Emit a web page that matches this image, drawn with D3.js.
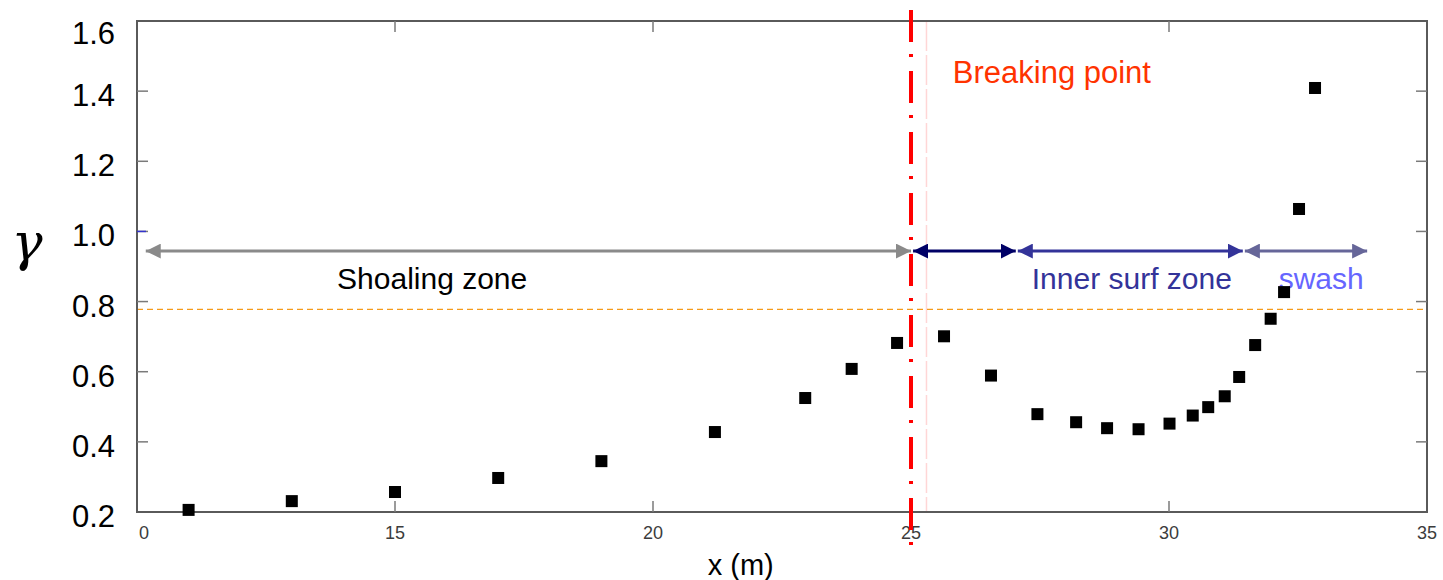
<!DOCTYPE html>
<html>
<head>
<meta charset="utf-8">
<script src="https://cdn.jsdelivr.net/npm/d3@7"></script>
<style>
  body { margin: 0; background: #fff; }
  svg { display: block; }
</style>
</head>
<body>
<script>
// wave breaking index gamma along the flume, x in metres
var xPos = [11.0, 13.0, 15.0, 17.0, 19.0, 21.2, 22.95, 23.85, 24.73, 25.64, 26.55, 27.45, 28.20,
            28.80, 29.41, 30.01, 30.46, 30.76, 31.08, 31.36, 31.67, 31.97, 32.23, 32.52, 32.83];
var gamma = [0.206, 0.231, 0.257, 0.297, 0.345, 0.428, 0.525, 0.608, 0.682, 0.701, 0.589, 0.479, 0.456,
             0.439, 0.436, 0.452, 0.475, 0.499, 0.530, 0.585, 0.676, 0.751, 0.827, 1.064, 1.409];

var xTicks = [10, 15, 20, 25, 30, 35];
var xTickLabels = ["0", "15", "20", "25", "30", "35"];
var yTicks = [0.2, 0.4, 0.6, 0.8, 1.0, 1.2, 1.4, 1.6];
var yTickLabels = ["0.2", "0.4", "0.6", "0.8", "1.0", "1.2", "1.4", "1.6"];

var breakX = 25.0;     // breaking point
var faintX = 25.3;
var refGamma = 0.778;  // dashed reference level

var zoneNames = ["Shoaling zone", "", "Inner surf zone", "swash"];
var zoneStart = [10.17, 25.04, 27.07, 31.47];
var zoneEnd   = [25.0, 27.03, 31.43, 33.84];
var zoneColors = ["#8a8a8a", "#000066", "#333399", "#666699"];
var arrowLevel = 0.944;

var W = 1443, H = 580;
var plot = {left: 137, right: 1427, top: 21, bottom: 512};
var font = "'Liberation Sans', Arial, sans-serif";

var svg = d3.select("body")
    .append("svg")
    .attr("width", W)
    .attr("height", H);

var x = d3.scaleLinear().domain([10, 35]).range([plot.left, plot.right]);
var y = d3.scaleLinear().domain([0.2, 1.6]).range([plot.bottom, plot.top]);

// faint pink line just after the break
svg.append("line")
    .attr("x1", x(faintX)).attr("x2", x(faintX))
    .attr("y1", plot.top).attr("y2", plot.bottom)
    .attr("stroke", "#ffd6d6")
    .attr("stroke-width", 1.5)
    .attr("stroke-dasharray", "30,4");

// orange dashed reference
svg.append("line")
    .attr("x1", plot.left).attr("x2", plot.right)
    .attr("y1", y(refGamma)).attr("y2", y(refGamma))
    .attr("stroke", "#f59a1a")
    .attr("stroke-width", 1.3)
    .attr("stroke-dasharray", "6,4");

// box
svg.append("rect")
    .attr("x", plot.left).attr("y", plot.top)
    .attr("width", plot.right - plot.left)
    .attr("height", plot.bottom - plot.top)
    .attr("fill", "none")
    .attr("stroke", "#5a5a5a")
    .attr("stroke-width", 2);

// inward ticks, matlab style
var tk = svg.append("g").attr("stroke", "#7a7a7a").attr("stroke-width", 1.5);
xTicks.slice(1, -1).forEach(function(v) {
    tk.append("line").attr("x1", x(v)).attr("x2", x(v)).attr("y1", plot.bottom).attr("y2", plot.bottom - 11);
    tk.append("line").attr("x1", x(v)).attr("x2", x(v)).attr("y1", plot.top).attr("y2", plot.top + 11);
});
yTicks.slice(1, -1).forEach(function(v) {
    tk.append("line").attr("x1", plot.left).attr("x2", plot.left + 11).attr("y1", y(v)).attr("y2", y(v));
    tk.append("line").attr("x1", plot.right).attr("x2", plot.right - 11).attr("y1", y(v)).attr("y2", y(v));
});
svg.append("line")
    .attr("x1", plot.left).attr("x2", plot.left + 9)
    .attr("y1", y(1.0)).attr("y2", y(1.0))
    .attr("stroke", "#3333cc").attr("stroke-width", 1.5);

// x tick labels
svg.append("g").selectAll("text")
    .data(xTicks)
    .enter().append("text")
        .attr("x", function(d, i) { return i === 0 ? x(d) + 2 : x(d); })
        .attr("y", plot.bottom + 27)
        .attr("text-anchor", function(d, i) { return i === 0 ? "start" : "middle"; })
        .attr("font-family", "'Liberation Sans Narrow', 'Liberation Sans', Arial, sans-serif")
        .attr("font-size", 18)
        .attr("fill", "#3c3c3c")
        .text(function(d, i) { return xTickLabels[i]; });

// y tick labels
svg.append("g").selectAll("text")
    .data(yTicks)
    .enter().append("text")
        .attr("x", 115)
        .attr("y", function(d) { return y(d) + (d === 1.6 ? 23 : 15); })
        .attr("text-anchor", "end")
        .attr("font-family", font)
        .attr("font-size", 31)
        .attr("fill", "#000")
        .text(function(d, i) { return yTickLabels[i]; });

svg.append("text")
    .attr("x", x(21.7))
    .attr("y", 575)
    .attr("text-anchor", "middle")
    .attr("font-family", font)
    .attr("font-size", 29)
    .text("x (m)");

svg.append("text")
    .attr("x", 27)
    .attr("y", 260)
    .attr("text-anchor", "middle")
    .attr("font-family", "'DejaVu Serif', 'Liberation Serif', serif")
    .attr("font-style", "italic")
    .attr("font-size", 52)
    .text("γ");

// breaking point, dash-dot
svg.append("line")
    .attr("x1", x(breakX)).attr("x2", x(breakX))
    .attr("y1", 10).attr("y2", 546)
    .attr("stroke", "#ff0000")
    .attr("stroke-width", 4)
    .attr("stroke-dasharray", "32,12,3,14");

svg.append("text")
    .attr("x", x(25.81))
    .attr("y", 83)
    .attr("font-family", font)
    .attr("font-size", 31)
    .attr("fill", "#ff3300")
    .text("Breaking point");

// zone arrows
var defs = svg.append("defs");
zoneColors.forEach(function(c, i) {
    defs.append("marker")
        .attr("id", "ah" + i)
        .attr("viewBox", "0 0 10 10")
        .attr("refX", 10).attr("refY", 5)
        .attr("markerUnits", "userSpaceOnUse")
        .attr("markerWidth", 15).attr("markerHeight", 15)
        .attr("orient", "auto-start-reverse")
        .append("path")
            .attr("d", "M0,0 L10,5 L0,10 Z")
            .attr("fill", c);
});

svg.append("g").selectAll("line")
    .data(zoneStart)
    .enter().append("line")
        .attr("x1", function(d) { return x(d); })
        .attr("x2", function(d, i) { return x(zoneEnd[i]); })
        .attr("y1", y(arrowLevel)).attr("y2", y(arrowLevel))
        .attr("stroke", function(d, i) { return zoneColors[i]; })
        .attr("stroke-width", 3)
        .attr("marker-start", function(d, i) { return "url(#ah" + i + ")"; })
        .attr("marker-end", function(d, i) { return "url(#ah" + i + ")"; });

var zoneLabels = [
    {text: zoneNames[0], at: 15.72, color: "#000"},
    {text: zoneNames[2], at: 29.28, color: "#333399"},
    {text: zoneNames[3], at: 32.95, color: "#6666ff"}
];
svg.append("g").selectAll("text")
    .data(zoneLabels)
    .enter().append("text")
        .attr("x", function(d) { return x(d.at); })
        .attr("y", 289)
        .attr("text-anchor", "middle")
        .attr("font-family", font)
        .attr("font-size", 30)
        .attr("fill", function(d) { return d.color; })
        .text(function(d) { return d.text; });

// data squares
var sz = 12;
svg.append("g").selectAll("rect")
    .data(xPos)
    .enter().append("rect")
        .attr("x", function(d) { return x(d) - sz / 2; })
        .attr("y", function(d, i) { return y(gamma[i]) - sz / 2; })
        .attr("width", sz).attr("height", sz)
        .attr("fill", "#000");
</script>
</body>
</html>
